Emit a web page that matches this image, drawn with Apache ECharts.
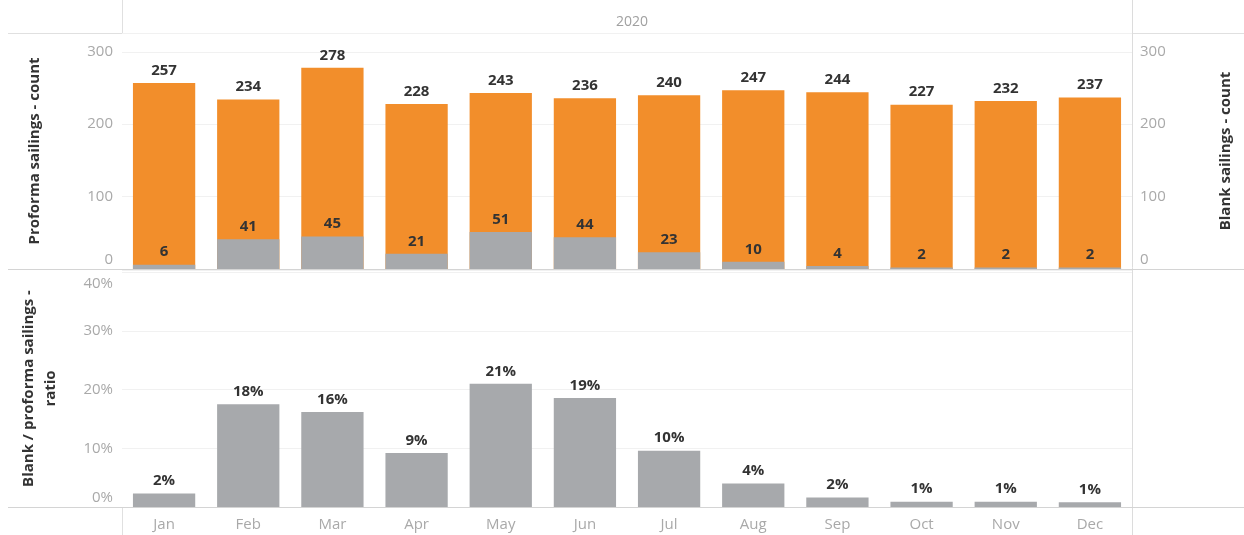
<!DOCTYPE html>
<html>
<head>
<meta charset="utf-8">
<script src="https://cdn.jsdelivr.net/npm/echarts@6/dist/echarts.min.js"></script>
<style>html,body{margin:0;padding:0;background:#fff}#c{width:1244px;height:535px}</style>
</head>
<body>
<div id="c"></div>
<script>
var months = ['Jan','Feb','Mar','Apr','May','Jun','Jul','Aug','Sep','Oct','Nov','Dec'];
var proforma = [257,234,278,228,243,236,240,247,244,227,232,237];
var blank = [6,41,45,21,51,44,23,10,4,2,2,2];
var ratioPct = [2.3,17.5,16.2,9.2,21.0,18.6,9.6,4.0,1.6,0.9,0.9,0.8];
var countTicks = [0,100,200,300];
var pctTicks = [0,10,20,30,40];
var yearLabel = '2020';

var FONT = 'Open Sans';
var ORANGE = '#f28e2b';
var GRAY = '#a7a9ac';
var LBL = '#333333';
var AX = '#a9a9a9';
var GRID = '#f1f1f1';
var FRAME = '#d4d4d4';

function countFmt(v){
  if (countTicks.indexOf(v) < 0) return '';
  return v === 0 ? '{z|0}' : String(v);
}
function pctFmt(v){
  var r = Math.round(v*100)/100;
  if (pctTicks.indexOf(r) < 0) return '';
  if (r === 0) return '{z|0%}';
  if (r === 40) return '{t|40%}';
  return r + '%';
}
var axisLabelBase = {color: AX, fontSize: 15, fontFamily: FONT,
  rich: {z: {color: AX, fontSize: 15, fontFamily: FONT, padding: [0,0,18,0]},
         t: {color: AX, fontSize: 15, fontFamily: FONT, padding: [22,0,0,0]}}};
var nameStyle = {color: '#333', fontSize: 15, fontWeight: 'bold', fontFamily: FONT};

var chart = echarts.init(document.getElementById('c'), null, {renderer: 'canvas'});
chart.setOption({
  animation: false,
  backgroundColor: '#fff',
  title: {text: yearLabel, left: 627, top: 10, textAlign: 'center',
    textStyle: {color: '#a0a0a0', fontSize: 14, fontWeight: 'normal', fontFamily: FONT}},
  grid: [
    {left: 122, right: 112, top: 33, height: 236},
    {left: 122, right: 112, top: 270, height: 237}
  ],
  xAxis: [
    {type: 'category', gridIndex: 0, data: months, axisLine: {show: false}, axisTick: {show: false}, axisLabel: {show: false}},
    {type: 'category', gridIndex: 1, data: months, axisLine: {show: false}, axisTick: {show: false},
     axisLabel: {color: AX, fontSize: 15, fontFamily: FONT, margin: 10}}
  ],
  yAxis: [
    {type: 'value', gridIndex: 0, min: 0, max: 326, interval: 100, position: 'left',
     name: 'Proforma sailings - count', nameLocation: 'middle', nameGap: 80, nameRotate: 90,
     nameTextStyle: nameStyle,
     axisLine: {show: false}, axisTick: {show: false},
     axisLabel: Object.assign({}, axisLabelBase, {margin: 9, formatter: countFmt}),
     splitLine: {lineStyle: {color: GRID}}},
    {type: 'value', gridIndex: 0, min: 0, max: 326, interval: 100, position: 'right',
     name: 'Blank sailings - count', nameLocation: 'middle', nameGap: 86, nameRotate: 90,
     nameTextStyle: nameStyle,
     axisLine: {show: false}, axisTick: {show: false},
     axisLabel: Object.assign({}, axisLabelBase, {margin: 8, formatter: countFmt}),
     splitLine: {show: false}},
    {type: 'value', gridIndex: 1, min: 0, max: 40.4, interval: 10, position: 'left',
     name: 'Blank / proforma sailings -\nratio', nameLocation: 'middle', nameGap: 60, nameRotate: 90,
     nameTextStyle: Object.assign({}, nameStyle, {lineHeight: 22, align: 'center'}),
     axisLine: {show: false}, axisTick: {show: false},
     axisLabel: Object.assign({}, axisLabelBase, {margin: 9, formatter: pctFmt}),
     splitLine: {lineStyle: {color: GRID}}}
  ],
  series: [
    {name: 'Proforma sailings', type: 'bar', xAxisIndex: 0, yAxisIndex: 0, data: proforma,
     barWidth: '74%', itemStyle: {color: ORANGE},
     label: {show: true, position: 'top', distance: 5, color: LBL, fontSize: 15, fontWeight: 'bold', fontFamily: FONT}},
    {name: 'Blank sailings', type: 'bar', xAxisIndex: 0, yAxisIndex: 1, data: blank,
     barWidth: '74%', barGap: '-100%', itemStyle: {color: GRAY},
     label: {show: true, position: 'top', distance: 5, color: LBL, fontSize: 15, fontWeight: 'bold', fontFamily: FONT}},
    {name: 'Ratio', type: 'bar', xAxisIndex: 1, yAxisIndex: 2, data: ratioPct,
     barWidth: '74%', itemStyle: {color: GRAY},
     label: {show: true, position: 'top', distance: 5, color: LBL, fontSize: 15, fontWeight: 'bold', fontFamily: FONT,
       formatter: function(p){ return Math.round(p.value) + '%'; }}}
  ],
  graphic: [
    {type: 'line', shape: {x1: 8, y1: 33.5, x2: 1244, y2: 33.5}, style: {stroke: '#e0e0e0', lineWidth: 1}, silent: true},
    {type: 'line', shape: {x1: 8, y1: 269.5, x2: 1244, y2: 269.5}, style: {stroke: FRAME, lineWidth: 1}, silent: true, z: 100},
    {type: 'line', shape: {x1: 8, y1: 507.5, x2: 1244, y2: 507.5}, style: {stroke: FRAME, lineWidth: 1}, silent: true, z: 100},
    {type: 'line', shape: {x1: 122.5, y1: 0, x2: 122.5, y2: 33}, style: {stroke: '#e0e0e0', lineWidth: 1}, silent: true},
    {type: 'line', shape: {x1: 122.5, y1: 507, x2: 122.5, y2: 535}, style: {stroke: '#e0e0e0', lineWidth: 1}, silent: true},
    {type: 'line', shape: {x1: 1132.5, y1: 0, x2: 1132.5, y2: 535}, style: {stroke: '#dcdcdc', lineWidth: 1}, silent: true}
  ]
});
</script>
</body>
</html>
